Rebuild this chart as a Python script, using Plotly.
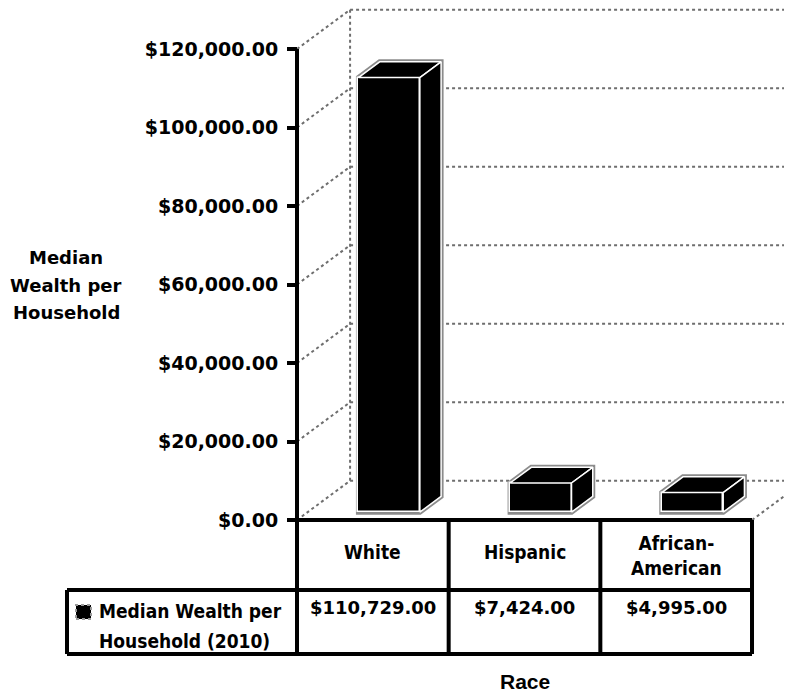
import plotly.graph_objects as go

# ---------------- data ----------------
categories = ["White", "Hispanic", "African-American"]
header_labels = ["White", "Hispanic", "African-<br>American"]
values = [110729.00, 7424.00, 4995.00]
series_label_lines = ["Median Wealth per", "Household (2010)"]
y_ticks = [0, 20000, 40000, 60000, 80000, 100000, 120000]
y_tick_text = [f"${v:,.2f}" for v in y_ticks]
y_title_lines = ["Median", "Wealth per", "Household"]
x_title = "Race"

# ---------------- layout calibration (screen pixels) ----------------
W, H = 792, 693
PAGE_OFF = 8                             # page body margin in the browser
X0_PX, COL_PX = 297.0, 151.67            # category axis origin / width of one category
Y0_PX, Y_PER_PX = 520.0, 120000 / 471.0  # value axis origin / dollars per pixel


def px_x(p):
    return (p - X0_PX) / COL_PX


def px_y(p):
    return (Y0_PX - p) * Y_PER_PX


x_min, x_max = px_x(PAGE_OFF), px_x(W + PAGE_OFF)
y_min, y_max = px_y(H + PAGE_OFF), px_y(PAGE_OFF)

DX, DY = 0.35, 10000.0       # depth vector of the 3-D box
F0, F1 = 0.2, 0.6            # bar depth (front / back fraction)
BAR_L, BAR_W = 0.335, 0.405  # bar position inside its category

n = len(categories)
fig = go.Figure()
shapes = []

wall = dict(color="#6e6e6e", width=2, dash="dot")
for v in y_ticks:
    shapes.append(dict(type="line", xref="x", yref="y", x0=DX, y0=v + DY,
                       x1=x_max, y1=v + DY, line=wall, layer="below"))
    shapes.append(dict(type="line", xref="x", yref="y", x0=0, y0=v,
                       x1=DX, y1=v + DY, line=wall, layer="below"))
shapes.append(dict(type="line", xref="x", yref="y", x0=DX, y0=DY,
                   x1=DX, y1=y_ticks[-1] + DY, line=wall, layer="below"))
shapes.append(dict(type="line", xref="x", yref="y", x0=n, y0=0,
                   x1=n + DX, y1=DY, line=wall, layer="below"))

ddx, ddy = (F1 - F0) * DX, (F1 - F0) * DY
base = F0 * DY
xls = [i + BAR_L + F0 * DX for i in range(n)]

# outer grey outline of each box
for xl, v in zip(xls, values):
    xr = xl + BAR_W
    t = base + v
    path = (f"M{xl},{base} L{xl},{t} L{xl+ddx},{t+ddy} L{xr+ddx},{t+ddy} "
            f"L{xr+ddx},{base+ddy} L{xr},{base} Z")
    shapes.append(dict(type="path", xref="x", yref="y", path=path,
                       line=dict(color="#8c8c8c", width=5), layer="below"))

# front faces
fig.add_trace(go.Bar(
    x=[xl + BAR_W / 2 for xl in xls], y=values, base=base, width=BAR_W,
    marker=dict(color="black", line=dict(color="white", width=1.5)),
    name="Median Wealth per Household (2010)", showlegend=False,
    hoverinfo="skip"))

# top and side faces
for xl, v in zip(xls, values):
    xr = xl + BAR_W
    t = base + v
    fig.add_trace(go.Scatter(
        x=[xl, xr, xr + ddx, xl + ddx, xl], y=[t, t, t + ddy, t + ddy, t],
        mode="lines", fill="toself", fillcolor="black",
        line=dict(color="white", width=1.5), showlegend=False, hoverinfo="skip"))
    fig.add_trace(go.Scatter(
        x=[xr, xr + ddx, xr + ddx, xr, xr], y=[base, base + ddy, t + ddy, t, base],
        mode="lines", fill="toself", fillcolor="black",
        line=dict(color="white", width=1.5), showlegend=False, hoverinfo="skip"))

# axis line and data table
blk = dict(color="black", width=4)
y_div, y_bot, x_leg = px_y(590), px_y(654), px_x(67)
shapes.append(dict(type="line", xref="x", yref="y", x0=0, y0=0, x1=0,
                   y1=y_ticks[-1], line=blk))
shapes.append(dict(type="line", xref="x", yref="y", x0=0, y0=0, x1=n, y1=0, line=blk))
for i in range(n + 1):
    shapes.append(dict(type="line", xref="x", yref="y", x0=i, y0=0, x1=i,
                       y1=y_bot, line=blk))
shapes.append(dict(type="line", xref="x", yref="y", x0=x_leg, y0=y_div, x1=n,
                   y1=y_div, line=blk))
shapes.append(dict(type="line", xref="x", yref="y", x0=x_leg, y0=y_bot, x1=n,
                   y1=y_bot, line=blk))
shapes.append(dict(type="line", xref="x", yref="y", x0=x_leg, y0=y_div, x1=x_leg,
                   y1=y_bot, line=blk))
# legend key
shapes.append(dict(type="rect", xref="x", yref="y", x0=px_x(76), x1=px_x(91),
                   y0=px_y(619), y1=px_y(605), fillcolor="black",
                   line=dict(color="#9a9a9a", width=2, dash="dot")))

tbl_font = dict(family="DejaVu Sans Condensed, DejaVu Sans", size=19,
                color="black", weight="bold")
val_font = dict(family="DejaVu Sans", size=18, color="black", weight="bold")
ann = []
for i, lab in enumerate(header_labels):
    ann.append(dict(x=i + 0.5, y=px_y(555 if "<br>" in lab else 552), text=lab,
                    showarrow=False, font=tbl_font, xanchor="center", yanchor="middle"))
for i, v in enumerate(values):
    ann.append(dict(x=i + 0.5, y=px_y(607), text=f"${v:,.2f}", showarrow=False,
                    font=val_font, xanchor="center", yanchor="middle"))
for line, yp in zip(series_label_lines, [611, 641]):
    ann.append(dict(x=px_x(97), y=px_y(yp), text=line, showarrow=False,
                    font=tbl_font, xanchor="left", yanchor="middle"))
for line, yp in zip(y_title_lines, [257, 285, 312]):
    ann.append(dict(x=px_x(66), y=px_y(yp), text=line, showarrow=False,
                    font=dict(family="DejaVu Sans", size=18, color="black", weight="bold"),
                    xanchor="center", yanchor="middle"))
ann.append(dict(x=n / 2, y=px_y(681), text=x_title, showarrow=False,
                font=dict(family="Liberation Sans", size=21, color="black", weight="bold"),
                xanchor="center", yanchor="middle"))
for a in ann:
    a.update(xref="x", yref="y")

fig.update_layout(
    width=W, height=H, margin=dict(l=0, r=0, t=0, b=0),
    paper_bgcolor="white", plot_bgcolor="white",
    shapes=shapes, annotations=ann, showlegend=False, bargap=0,
    xaxis=dict(range=[x_min, x_max], visible=False, fixedrange=True),
    yaxis=dict(range=[y_min, y_max], anchor="free", position=(X0_PX - PAGE_OFF) / W,
               showgrid=False, zeroline=False, showline=False,
               tickmode="array", tickvals=y_ticks, ticktext=y_tick_text,
               ticks="outside", ticklen=10, tickwidth=4, tickcolor="black",
               ticklabelstandoff=5,
               tickfont=dict(family="DejaVu Sans", size=19, color="black", weight="bold"),
               fixedrange=True),
)

fig.write_html("out.html", config={"displayModeBar": False})
